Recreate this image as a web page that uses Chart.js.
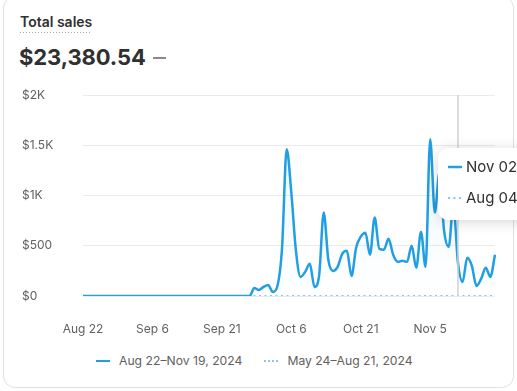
<!DOCTYPE html>
<html>
<head>
<meta charset="utf-8">
<script src="https://cdn.jsdelivr.net/npm/chart.js@4"></script>
<style>
  html, body { margin: 0; padding: 0; background: #fff; }
  body { width: 517px; height: 391px; position: relative; overflow: hidden; font-family: Inter, "Noto Sans", sans-serif; }
  .card { position: absolute; left: 3px; top: -4px; width: 511px; height: 392px; background: #fff; border: 1px solid #e1e1e1; border-radius: 12px; box-sizing: border-box; }
  .title { position: absolute; left: 20px; top: 13px; font-size: 14px; font-weight: 600; color: #303030; padding-bottom: 3px;
    background-image: linear-gradient(to right, #a8a8a8 50%, transparent 50%); background-size: 3px 1.5px; background-repeat: repeat-x; background-position: 0 100%; }
  .total { position: absolute; left: 19px; top: 44px; font-size: 22px; font-weight: 700; color: #303030; letter-spacing: -0.1px; }
  .dash { position: absolute; left: 153px; top: 57px; width: 13px; height: 1.5px; background: #8a8a8a; }
  .chartbox { position: absolute; left: 0; top: 80px; width: 517px; height: 260px; }
  .legend { position: absolute; left: 96px; top: 353px; font-size: 12.2px; color: #616161; display: flex; align-items: center; white-space: nowrap; }
  .legend .mk { display: inline-block; width: 14px; height: 0; margin-right: 9px; }
  .legend .solid { border-top: 2px solid #209fe2; }
  .legend .dot { border-top: 2px dotted #7fcbef; }
  .legend .gap { width: 22px; }
</style>
</head>
<body>
<div class="card"></div>
<div class="title">Total sales</div>
<div class="total">$23,380.54</div>
<div class="dash"></div>
<div class="chartbox"><canvas id="salesChart" width="517" height="260"></canvas></div>
<div class="legend">
  <span class="mk solid"></span><span>Aug 22–Nov 19, 2024</span>
  <span class="gap"></span>
  <span class="mk dot"></span><span>May 24–Aug 21, 2024</span>
</div>
<script>
// Dias del periodo actual (Aug 22 -> Nov 19, 2024)
const meses = ["Jan","Feb","Mar","Apr","May","Jun","Jul","Aug","Sep","Oct","Nov","Dec"];
const dias = [];
for (let i = 0; i < 90; i++) {
    const d = new Date(2024, 7, 22 + i);
    dias.push(meses[d.getMonth()] + " " + d.getDate());
}

// Ventas diarias
const ventasActual = [
    0, 0, 0, 0, 0, 0, 0, 0, 0, 0,
    0, 0, 0, 0, 0, 0, 0, 0, 0, 0,
    0, 0, 0, 0, 0, 0, 0, 0, 0, 0,
    0, 0, 0, 0, 0, 0, 0, 80, 60, 90,
    110, 40, 100, 480, 1460, 1030, 450, 190, 240, 320,
    90, 200, 830, 360, 250, 290, 420, 450, 200, 480,
    590, 630, 410, 780, 470, 460, 570, 410, 340, 350,
    340, 500, 280, 640, 290, 1560, 830, 1230, 650, 490,
    900, 330, 140, 380, 300, 100, 170, 280, 190, 410
];
const ventasAnterior = [
    0, 0, 0, 0, 0, 0, 0, 0, 0, 0,
    0, 0, 0, 0, 0, 0, 0, 0, 0, 0,
    0, 0, 0, 0, 0, 0, 0, 0, 0, 0,
    0, 0, 0, 0, 0, 0, 0, 0, 0, 0,
    0, 0, 0, 0, 0, 0, 0, 0, 0, 0,
    0, 0, 0, 0, 0, 0, 0, 0, 0, 0,
    0, 0, 0, 0, 0, 0, 0, 0, 0, 0,
    0, 0, 0, 0, 0, 0, 0, 0, 0, 0,
    0, 0, 0, 0, 0, 0, 0, 0, 0, 0
];

const yTicks = [0, 500, 1000, 1500, 2000];
const yTickLabels = ["$0", "$500", "$1K", "$1.5K", "$2K"];
const xTickCada = 15;

// tooltip fijo como en la captura
const hoverIndex = 81;
const tooltipLabels = ["Nov 02", "Aug 04"];

const azul = "#209fe2";
const azulClaro = "#7fcbef";

const tooltipFijo = {
    id: "tooltipFijo",
    afterDatasetsDraw(chart) {
        const { ctx, chartArea, scales } = chart;
        const x = scales.x.getPixelForValue(hoverIndex);
        ctx.save();
        ctx.strokeStyle = "#d2d2d2";
        ctx.lineWidth = 1.5;
        ctx.beginPath();
        ctx.moveTo(x, chartArea.top);
        ctx.lineTo(x, chartArea.bottom);
        ctx.stroke();

        const bx = x - 20, by = chartArea.top + 53, bw = 120, bh = 72;
        ctx.shadowColor = "rgba(0,0,0,0.16)";
        ctx.shadowBlur = 14;
        ctx.shadowOffsetY = 2;
        ctx.fillStyle = "#fff";
        ctx.beginPath();
        ctx.roundRect(bx, by, bw, bh, 10);
        ctx.fill();
        ctx.shadowColor = "transparent";

        ctx.font = "15px Inter";
        ctx.textBaseline = "middle";
        ctx.fillStyle = "#303030";
        const filas = [by + 19, by + 50];
        // fila 1: linea solida
        ctx.strokeStyle = azul;
        ctx.lineWidth = 2.5;
        ctx.beginPath();
        ctx.moveTo(bx + 10, filas[0]);
        ctx.lineTo(bx + 24, filas[0]);
        ctx.stroke();
        ctx.fillText(tooltipLabels[0], bx + 28, filas[0]);
        // fila 2: punteada
        ctx.strokeStyle = azulClaro;
        ctx.lineWidth = 2;
        ctx.setLineDash([2, 3.5]);
        ctx.beginPath();
        ctx.moveTo(bx + 10, filas[1]);
        ctx.lineTo(bx + 24, filas[1]);
        ctx.stroke();
        ctx.setLineDash([]);
        ctx.fillText(tooltipLabels[1], bx + 28, filas[1]);
        ctx.restore();
    }
};

const ctx = document.getElementById("salesChart").getContext("2d");

new Chart(ctx, {
    type: "line",
    data: {
        labels: dias,
        datasets: [
            {
                label: "Aug 22–Nov 19, 2024",
                data: ventasActual,
                borderColor: azul,
                borderWidth: 2.5,
                pointRadius: 0,
                cubicInterpolationMode: "monotone",
                fill: "origin",
                backgroundColor: (c) => {
                    const area = c.chart.chartArea;
                    if (!area) return "rgba(32,159,226,0.05)";
                    const g = c.chart.ctx.createLinearGradient(0, area.top, 0, area.bottom);
                    g.addColorStop(0, "rgba(32,159,226,0.10)");
                    g.addColorStop(1, "rgba(32,159,226,0.0)");
                    return g;
                }
            },
            {
                label: "May 24–Aug 21, 2024",
                data: ventasAnterior,
                borderColor: azulClaro,
                borderWidth: 2,
                borderDash: [2, 3.5],
                pointRadius: 0,
                fill: false
            }
        ]
    },
    options: {
        responsive: false,
        maintainAspectRatio: false,
        animation: false,
        events: [],
        layout: { padding: { left: 22, right: 22, top: 15, bottom: 0 } },
        plugins: {
            legend: { display: false },
            tooltip: { enabled: false }
        },
        scales: {
            x: {
                grid: { display: false },
                border: { display: false },
                afterFit: (s) => { s.height = 44; },
                ticks: {
                    autoSkip: false,
                    maxRotation: 0,
                    padding: 18,
                    color: "#616161",
                    font: { family: "Inter", size: 12 },
                    callback: (v, i) => (i % xTickCada === 0 ? dias[i] : null)
                }
            },
            y: {
                min: 0,
                max: 2000,
                afterFit: (s) => { s.width = 61; },
                afterBuildTicks: (s) => { s.ticks = yTicks.map(v => ({ value: v })); },
                grid: { color: "#ebebeb", lineWidth: 1, drawTicks: false },
                border: { display: false },
                ticks: {
                    crossAlign: "far",
                    color: "#616161",
                    font: { family: "Inter", size: 12 },
                    callback: (v) => yTickLabels[yTicks.indexOf(v)]
                }
            }
        }
    },
    plugins: [tooltipFijo]
});
</script>
</body>
</html>
